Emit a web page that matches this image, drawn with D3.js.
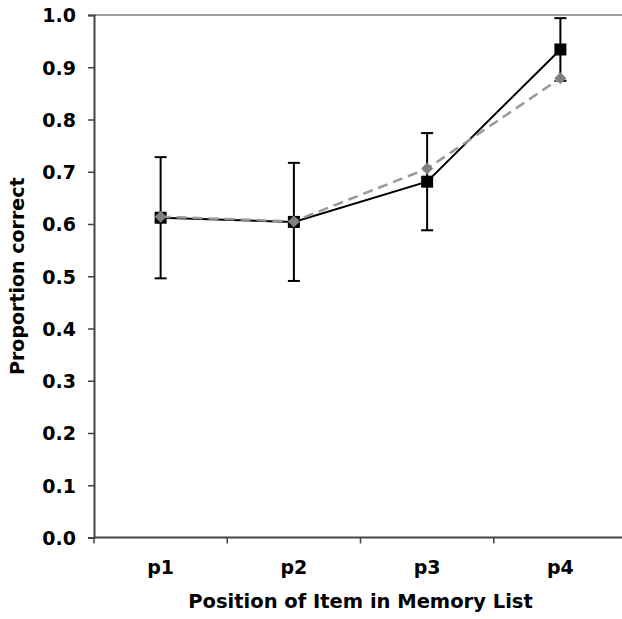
<!DOCTYPE html>
<html lang="en">
<head>
<meta charset="utf-8">
<title>Proportion correct</title>
<script src="https://cdn.jsdelivr.net/npm/d3@7"></script>
<style>
  body { margin: 0; background: #fff; }
  text { font-family: "DejaVu Sans", Verdana, sans-serif; font-weight: bold; fill: #000; }
</style>
</head>
<body>
<div id="chart"></div>
<script>
// data
var positions = ["p1", "p2", "p3", "p4"];
var solidValues = [0.612, 0.604, 0.681, 0.934];
var solidErrors = [0.116, 0.113, 0.093, 0.060];
var dashedValues = [0.614, 0.605, 0.706, 0.879];
var yTicks = [0, 0.1, 0.2, 0.3, 0.4, 0.5, 0.6, 0.7, 0.8, 0.9, 1.0];

var width = 622, height = 619;
var margin = { top: 15, right: -5, bottom: 81.5, left: 94 };

var svg = d3.select("#chart").append("svg")
  .attr("width", width)
  .attr("height", height);

var x = d3.scaleBand()
  .domain(positions)
  .range([margin.left, width - margin.right]);

var y = d3.scaleLinear()
  .domain([0, 1])
  .range([height - margin.bottom, margin.top]);

var cx = function (d, i) { return x(positions[i]) + x.bandwidth() / 2; };

// top border line at 1.0
svg.append("line")
  .attr("x1", margin.left).attr("x2", width)
  .attr("y1", y(1)).attr("y2", y(1))
  .attr("stroke", "#a0a0a0").attr("stroke-width", 2);

// y axis
var yAxis = svg.append("g")
  .attr("transform", "translate(" + margin.left + ",0)")
  .call(d3.axisLeft(y).tickValues(yTicks).tickFormat(d3.format(".1f")).tickSize(6).tickPadding(12));
yAxis.select(".domain").attr("stroke", "#444").attr("stroke-width", 2);
yAxis.selectAll(".tick line").attr("stroke", "#444").attr("stroke-width", 1.5);
yAxis.selectAll("text").style("font-size", "19px").attr("dy", "0.36em");

// x axis, ticks on category boundaries
var xAxis = svg.append("g")
  .attr("transform", "translate(0," + y(0) + ")");
xAxis.append("line")
  .attr("x1", margin.left).attr("x2", width)
  .attr("stroke", "#444").attr("stroke-width", 2);
xAxis.selectAll(".bound")
  .data(positions)
  .enter().append("line")
  .attr("x1", function (d) { return x(d); })
  .attr("x2", function (d) { return x(d); })
  .attr("y1", 0).attr("y2", 6)
  .attr("stroke", "#444").attr("stroke-width", 1.5);
xAxis.selectAll(".lbl")
  .data(positions)
  .enter().append("text")
  .attr("x", function (d) { return x(d) + x.bandwidth() / 2; })
  .attr("y", 36)
  .attr("text-anchor", "middle")
  .style("font-size", "19px")
  .text(function (d) { return d; });

// axis titles
svg.append("text")
  .attr("x", (margin.left + width - margin.right) / 2)
  .attr("y", 608)
  .attr("text-anchor", "middle")
  .style("font-size", "19.5px")
  .text("Position of Item in Memory List");

svg.append("text")
  .attr("transform", "translate(24," + (y(0) + y(1)) / 2 + ") rotate(-90)")
  .attr("text-anchor", "middle")
  .style("font-size", "19px")
  .text("Proportion correct");

// error bars
var err = svg.append("g").attr("stroke", "#000").attr("stroke-width", 2);
solidValues.forEach(function (v, i) {
  var px = cx(null, i);
  var top = y(v + solidErrors[i]), bot = y(v - solidErrors[i]);
  err.append("line").attr("x1", px).attr("x2", px).attr("y1", top).attr("y2", bot);
  err.append("line").attr("x1", px - 6).attr("x2", px + 6).attr("y1", top).attr("y2", top);
  err.append("line").attr("x1", px - 6).attr("x2", px + 6).attr("y1", bot).attr("y2", bot);
});

var line = d3.line()
  .x(function (d, i) { return cx(d, i); })
  .y(function (d) { return y(d); });

// solid series
svg.append("path")
  .datum(solidValues)
  .attr("d", line)
  .attr("fill", "none")
  .attr("stroke", "#000")
  .attr("stroke-width", 2);

svg.selectAll(".sq")
  .data(solidValues)
  .enter().append("rect")
  .attr("x", function (d, i) { return cx(d, i) - 6; })
  .attr("y", function (d) { return y(d) - 6; })
  .attr("width", 12).attr("height", 12)
  .attr("fill", "#000");

// dashed series
svg.append("path")
  .datum(dashedValues)
  .attr("d", line)
  .attr("fill", "none")
  .attr("stroke", "#999")
  .attr("stroke-width", 2.5)
  .attr("stroke-dasharray", "10,6");

svg.selectAll(".dm")
  .data(dashedValues)
  .enter().append("path")
  .attr("transform", function (d, i) { return "translate(" + cx(d, i) + "," + y(d) + ")"; })
  .attr("d", "M0,-6L6,0L0,6L-6,0Z")
  .attr("fill", "#808080");
</script>
</body>
</html>
